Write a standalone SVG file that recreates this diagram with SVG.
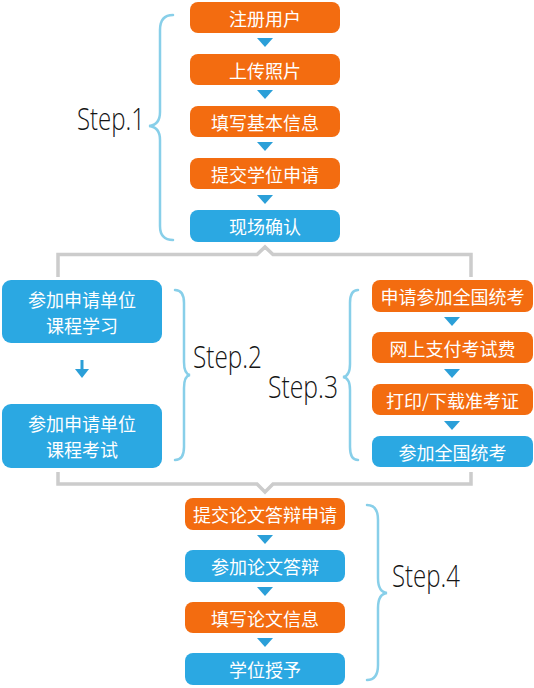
<svg xmlns="http://www.w3.org/2000/svg" width="534" height="688" viewBox="0 0 534 688">
<style>
.o{fill:#f36c10}
.b{fill:#2ba8e2}
.t{fill:#fff;font-family:"Noto Sans CJK SC","Noto Sans",sans-serif;font-size:18px;text-anchor:middle;dominant-baseline:central}
.s{fill:#151515;font-family:"Open Sans","Liberation Sans",sans-serif;font-weight:300;font-size:32px}
.br{fill:none;stroke:#88cfe9;stroke-width:2.5;stroke-linecap:round}
.g{fill:none;stroke:#cccccc;stroke-width:3.5}
.tri{fill:#2b9fd8}
</style>
<defs>
<polygon id="tr" points="-8,0 8,0 0,9" class="tri"/>
</defs>
<g id="connectors">
<path class="g" d="M58,277 V254.5 H257 L265,247 L273,254.5 H471 V277"/>
<path class="g" d="M58,472 V484 H257 L265,492 L273,484 H471 V472"/>
<use href="#tr" x="265" y="38"/>
<use href="#tr" x="265" y="90"/>
<use href="#tr" x="265" y="142"/>
<use href="#tr" x="265" y="195"/>
<use href="#tr" x="452" y="317"/>
<use href="#tr" x="452" y="369"/>
<use href="#tr" x="452" y="421"/>
<use href="#tr" x="265" y="535"/>
<use href="#tr" x="265" y="587"/>
<use href="#tr" x="265" y="638"/>
<rect x="80.5" y="360" width="3" height="10" class="tri"/>
<polygon points="75,369 89,369 82,378" class="tri"/>
</g>
<g id="braces">
<path class="br" d="M173,15 Q160,15 160,30 V112 Q160,125 149,126 Q160,127 160,140 V226 Q160,240 173,240"/>
<path class="br" d="M175,290 Q184,290 184,303 V362 Q184,374 190,375 Q184,376 184,388 V447 Q184,460 175,460"/>
<path class="br" d="M358,290 Q350,290 350,303 V364 Q350,376 343,377 Q350,378 350,390 V447 Q350,460 358,460"/>
<path class="br" d="M367,505 Q378,505 378,520 V578 Q378,592 387,593 Q378,594 378,608 V665 Q378,680 367,680"/>
</g>
<g id="labels">
<text class="s" x="77" y="130" textLength="68" lengthAdjust="spacingAndGlyphs">Step.1</text>
<text class="s" x="193" y="368" textLength="69" lengthAdjust="spacingAndGlyphs">Step.2</text>
<text class="s" x="268" y="398" textLength="70" lengthAdjust="spacingAndGlyphs">Step.3</text>
<text class="s" x="392" y="587" textLength="68" lengthAdjust="spacingAndGlyphs">Step.4</text>
</g>
<g id="n1"><rect class="o" x="190" y="2" width="150" height="31" rx="8"/><text class="t" x="265" y="17.5">注册用户</text></g>
<g id="n2"><rect class="o" x="190" y="54" width="150" height="31" rx="8"/><text class="t" x="265" y="69.5">上传照片</text></g>
<g id="n3"><rect class="o" x="190" y="106" width="150" height="31" rx="8"/><text class="t" x="265" y="121.5">填写基本信息</text></g>
<g id="n4"><rect class="o" x="190" y="158" width="150" height="31" rx="8"/><text class="t" x="265" y="173.5">提交学位申请</text></g>
<g id="n5"><rect class="b" x="190" y="210" width="150" height="32" rx="8"/><text class="t" x="265" y="226">现场确认</text></g>
<g id="n6"><rect class="b" x="2" y="280" width="160" height="63" rx="9"/><text class="t" x="82" y="298.5">参加申请单位</text><text class="t" x="82" y="324.5">课程学习</text></g>
<g id="n7"><rect class="b" x="2" y="404" width="160" height="64" rx="9"/><text class="t" x="82" y="423">参加申请单位</text><text class="t" x="82" y="449">课程考试</text></g>
<g id="n8"><rect class="o" x="372" y="280" width="161" height="32" rx="8"/><text class="t" x="452.5" y="296">申请参加全国统考</text></g>
<g id="n9"><rect class="o" x="372" y="332" width="161" height="31" rx="8"/><text class="t" x="452.5" y="347.5">网上支付考试费</text></g>
<g id="n10"><rect class="o" x="372" y="384" width="161" height="31" rx="8"/><text class="t" x="452.5" y="399.5">打印/下载准考证</text></g>
<g id="n11"><rect class="b" x="372" y="436" width="161" height="31" rx="8"/><text class="t" x="452.5" y="451.5">参加全国统考</text></g>
<g id="n12"><rect class="o" x="185" y="498" width="160" height="32" rx="8"/><text class="t" x="265" y="514">提交论文答辩申请</text></g>
<g id="n13"><rect class="b" x="185" y="550" width="160" height="32" rx="8"/><text class="t" x="265" y="566">参加论文答辩</text></g>
<g id="n14"><rect class="o" x="185" y="602" width="160" height="31" rx="8"/><text class="t" x="265" y="617.5">填写论文信息</text></g>
<g id="n15"><rect class="b" x="185" y="653" width="160" height="32" rx="8"/><text class="t" x="265" y="669">学位授予</text></g>
</svg>
